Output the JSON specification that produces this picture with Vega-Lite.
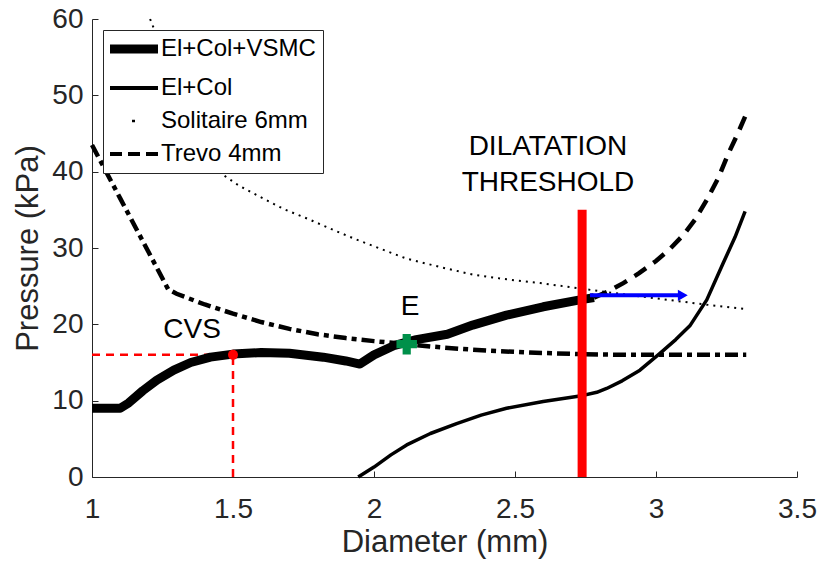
{
  "$schema": "https://vega.github.io/schema/vega-lite/v6.json",
  "autosize": "none",
  "width": 705,
  "height": 458,
  "padding": {"left": 92, "top": 19, "right": 20, "bottom": 87},
  "background": "white",
  "config": {
    "font": "Liberation Sans",
    "view": {"stroke": null},
    "axis": {"grid": false, "domainColor": "#262626", "tickColor": "#262626", "labelColor": "#262626", "titleColor": "#262626", "labelFontSize": 28, "titleFontSize": 31, "titleFontWeight": "normal", "tickSize": -6, "labelFlush": false, "labelOverlap": false}
  },
  "datasets": {
    "curves": [
      {"series": "El+Col+VSMC", "d": 1.0, "p": 9.0},
      {"series": "El+Col+VSMC", "d": 1.1, "p": 9.0},
      {"series": "El+Col+VSMC", "d": 1.13, "p": 9.7},
      {"series": "El+Col+VSMC", "d": 1.18, "p": 11.3},
      {"series": "El+Col+VSMC", "d": 1.23, "p": 12.7},
      {"series": "El+Col+VSMC", "d": 1.29, "p": 14.0},
      {"series": "El+Col+VSMC", "d": 1.35, "p": 15.0},
      {"series": "El+Col+VSMC", "d": 1.42, "p": 15.7},
      {"series": "El+Col+VSMC", "d": 1.5, "p": 16.1},
      {"series": "El+Col+VSMC", "d": 1.6, "p": 16.3},
      {"series": "El+Col+VSMC", "d": 1.7, "p": 16.2},
      {"series": "El+Col+VSMC", "d": 1.82, "p": 15.7},
      {"series": "El+Col+VSMC", "d": 1.9, "p": 15.2},
      {"series": "El+Col+VSMC", "d": 1.95, "p": 14.8},
      {"series": "El+Col+VSMC", "d": 2.0, "p": 16.0},
      {"series": "El+Col+VSMC", "d": 2.07, "p": 17.2},
      {"series": "El+Col+VSMC", "d": 2.15, "p": 18.0},
      {"series": "El+Col+VSMC", "d": 2.26, "p": 18.7},
      {"series": "El+Col+VSMC", "d": 2.35, "p": 19.9},
      {"series": "El+Col+VSMC", "d": 2.47, "p": 21.2},
      {"series": "El+Col+VSMC", "d": 2.6, "p": 22.3},
      {"series": "El+Col+VSMC", "d": 2.73, "p": 23.2},
      {"series": "El+Col+VSMC", "d": 2.78, "p": 23.5},
      {"series": "El+Col", "d": 1.944, "p": 0.0},
      {"series": "El+Col", "d": 2.0, "p": 1.3},
      {"series": "El+Col", "d": 2.06, "p": 2.9},
      {"series": "El+Col", "d": 2.116, "p": 4.2},
      {"series": "El+Col", "d": 2.2, "p": 5.7},
      {"series": "El+Col", "d": 2.293, "p": 7.0},
      {"series": "El+Col", "d": 2.38, "p": 8.1},
      {"series": "El+Col", "d": 2.47, "p": 9.0},
      {"series": "El+Col", "d": 2.6, "p": 9.9},
      {"series": "El+Col", "d": 2.73, "p": 10.6},
      {"series": "El+Col", "d": 2.79, "p": 11.1},
      {"series": "El+Col", "d": 2.825, "p": 11.6},
      {"series": "El+Col", "d": 2.88, "p": 12.6},
      {"series": "El+Col", "d": 2.943, "p": 14.0},
      {"series": "El+Col", "d": 3.014, "p": 16.2},
      {"series": "El+Col", "d": 3.07, "p": 18.0},
      {"series": "El+Col", "d": 3.12, "p": 19.8},
      {"series": "El+Col", "d": 3.18, "p": 23.2},
      {"series": "El+Col", "d": 3.238, "p": 28.0},
      {"series": "El+Col", "d": 3.28, "p": 31.4},
      {"series": "El+Col", "d": 3.316, "p": 34.8},
      {"series": "Solitaire 6mm", "d": 1.206, "p": 60.0},
      {"series": "Solitaire 6mm", "d": 1.26, "p": 55.0},
      {"series": "Solitaire 6mm", "d": 1.32, "p": 49.5},
      {"series": "Solitaire 6mm", "d": 1.38, "p": 44.5},
      {"series": "Solitaire 6mm", "d": 1.448, "p": 40.0},
      {"series": "Solitaire 6mm", "d": 1.52, "p": 38.2},
      {"series": "Solitaire 6mm", "d": 1.596, "p": 36.7},
      {"series": "Solitaire 6mm", "d": 1.68, "p": 35.1},
      {"series": "Solitaire 6mm", "d": 1.773, "p": 33.7},
      {"series": "Solitaire 6mm", "d": 1.86, "p": 32.3},
      {"series": "Solitaire 6mm", "d": 1.938, "p": 31.1},
      {"series": "Solitaire 6mm", "d": 2.03, "p": 29.8},
      {"series": "Solitaire 6mm", "d": 2.116, "p": 28.6},
      {"series": "Solitaire 6mm", "d": 2.235, "p": 27.5},
      {"series": "Solitaire 6mm", "d": 2.352, "p": 26.5},
      {"series": "Solitaire 6mm", "d": 2.47, "p": 25.9},
      {"series": "Solitaire 6mm", "d": 2.589, "p": 25.4},
      {"series": "Solitaire 6mm", "d": 2.73, "p": 24.7},
      {"series": "Solitaire 6mm", "d": 2.85, "p": 24.1},
      {"series": "Solitaire 6mm", "d": 3.0, "p": 23.4},
      {"series": "Solitaire 6mm", "d": 3.15, "p": 22.7},
      {"series": "Solitaire 6mm", "d": 3.316, "p": 22.0},
      {"series": "Trevo 4mm", "d": 1.0, "p": 43.5},
      {"series": "Trevo 4mm", "d": 1.1, "p": 36.5},
      {"series": "Trevo 4mm", "d": 1.2, "p": 29.5},
      {"series": "Trevo 4mm", "d": 1.27, "p": 24.6},
      {"series": "Trevo 4mm", "d": 1.3, "p": 24.0},
      {"series": "Trevo 4mm", "d": 1.4, "p": 22.6},
      {"series": "Trevo 4mm", "d": 1.5, "p": 21.4},
      {"series": "Trevo 4mm", "d": 1.6, "p": 20.3},
      {"series": "Trevo 4mm", "d": 1.7, "p": 19.4},
      {"series": "Trevo 4mm", "d": 1.8, "p": 18.7},
      {"series": "Trevo 4mm", "d": 1.9, "p": 18.2},
      {"series": "Trevo 4mm", "d": 2.0, "p": 17.8},
      {"series": "Trevo 4mm", "d": 2.116, "p": 17.4},
      {"series": "Trevo 4mm", "d": 2.2, "p": 17.1},
      {"series": "Trevo 4mm", "d": 2.3, "p": 16.8},
      {"series": "Trevo 4mm", "d": 2.41, "p": 16.55},
      {"series": "Trevo 4mm", "d": 2.55, "p": 16.3},
      {"series": "Trevo 4mm", "d": 2.73, "p": 16.1},
      {"series": "Trevo 4mm", "d": 2.9, "p": 16.0},
      {"series": "Trevo 4mm", "d": 3.1, "p": 16.0},
      {"series": "Trevo 4mm", "d": 3.32, "p": 16.0}
    ],
    "rising": [
      {"d": 2.78, "p": 23.5},
      {"d": 2.83, "p": 24.3},
      {"d": 2.884, "p": 25.4},
      {"d": 2.94, "p": 26.7},
      {"d": 3.0, "p": 28.3},
      {"d": 3.05, "p": 29.9},
      {"d": 3.097, "p": 31.7},
      {"d": 3.14, "p": 33.8},
      {"d": 3.18, "p": 36.3},
      {"d": 3.22, "p": 39.1},
      {"d": 3.257, "p": 42.4},
      {"d": 3.29, "p": 45.0},
      {"d": 3.316, "p": 47.2}
    ],
    "cvslines": [
      {"seg": "h", "d": 1.0, "p": 16.0},
      {"seg": "h", "d": 1.5, "p": 16.0},
      {"seg": "v", "d": 1.5, "p": 0.0},
      {"seg": "v", "d": 1.5, "p": 16.0}
    ],
    "labels": [
      {"txt": "CVS", "d": 1.355, "p": 19.3},
      {"txt": "E", "d": 2.128, "p": 22.3},
      {"txt": "DILATATION", "d": 2.617, "p": 43.2},
      {"txt": "THRESHOLD", "d": 2.617, "p": 38.5}
    ]
  },
  "encoding": {
    "x": {"type": "quantitative"},
    "y": {"type": "quantitative"}
  },
  "layer": [
    {
      "data": {"name": "cvslines"},
      "mark": {"type": "line", "color": "#ff0000", "strokeWidth": 2.5, "strokeDash": [8, 6]},
      "encoding": {
        "x": {"field": "d", "type": "quantitative", "scale": {"domain": [1, 3.5], "nice": false, "zero": false}, "axis": {"values": [1, 1.5, 2, 2.5, 3, 3.5], "title": "Diameter (mm)", "labelPadding": 24, "titlePadding": 4, "format": "~g"}},
        "y": {"field": "p", "type": "quantitative", "scale": {"domain": [0, 60], "nice": false}, "axis": {"values": [0, 10, 20, 30, 40, 50, 60], "title": "Pressure (kPa)", "labelPadding": 15, "titlePadding": 7}},
        "detail": {"field": "seg", "type": "nominal"}
      }
    },
    {
      "data": {"name": "curves"},
      "transform": [{"filter": "datum.series === 'El+Col+VSMC'"}],
      "mark": {"type": "line", "strokeWidth": 9, "strokeCap": "butt", "strokeJoin": "round"},
      "encoding": {
        "x": {"field": "d", "type": "quantitative"},
        "y": {"field": "p", "type": "quantitative"},
        "color": {
          "field": "series", "type": "nominal",
          "scale": {"domain": ["El+Col+VSMC", "El+Col", "Solitaire 6mm", "Trevo 4mm"], "range": ["#000000", "#000000", "#000000", "#000000"]},
          "legend": {
            "title": null,
            "orient": "top-left",
            "offset": 11,
            "symbolType": "M-2,0H2",
            "symbolSize": 576,
            "symbolOffset": 12,
            "symbolStrokeColor": "#000000",
            "symbolFillColor": "transparent",
            "labelFontSize": 24,
            "labelColor": "#000000",
            "labelOffset": 15,
            "rowPadding": 9,
            "strokeColor": "#262626",
            "fillColor": "white",
            "padding": 7,
            "encode": {
              "symbols": {"update": {
                "strokeWidth": {"signal": "datum.value === 'El+Col+VSMC' ? 9 : datum.value === 'Solitaire 6mm' ? 2.5 : 4"},
                "strokeDash": {"signal": "datum.value === 'Trevo 4mm' ? [12, 6] : datum.value === 'Solitaire 6mm' ? [3, 100] : [1, 0]"},
                "strokeDashOffset": {"signal": "datum.value === 'Solitaire 6mm' ? -22 : 0"}
              }}
            }
          }
        }
      }
    },
    {
      "data": {"name": "curves"},
      "transform": [{"filter": "datum.series === 'El+Col'"}],
      "mark": {"type": "line", "strokeWidth": 3.5, "strokeJoin": "round"},
      "encoding": {
        "x": {"field": "d", "type": "quantitative"},
        "y": {"field": "p", "type": "quantitative"},
        "color": {"field": "series", "type": "nominal"}
      }
    },
    {
      "data": {"name": "curves"},
      "transform": [{"filter": "datum.series === 'Solitaire 6mm'"}],
      "mark": {"type": "line", "strokeWidth": 2, "strokeDash": [2, 5]},
      "encoding": {
        "x": {"field": "d", "type": "quantitative"},
        "y": {"field": "p", "type": "quantitative"},
        "color": {"field": "series", "type": "nominal"}
      }
    },
    {
      "data": {"name": "curves"},
      "transform": [{"filter": "datum.series === 'Trevo 4mm'"}],
      "mark": {"type": "line", "strokeWidth": 4.5, "strokeDash": [13, 5, 5, 5]},
      "encoding": {
        "x": {"field": "d", "type": "quantitative"},
        "y": {"field": "p", "type": "quantitative"},
        "color": {"field": "series", "type": "nominal"}
      }
    },
    {
      "data": {"name": "rising"},
      "mark": {"type": "line", "color": "#000000", "strokeWidth": 4.5, "strokeDash": [14, 9]},
      "encoding": {
        "x": {"field": "d", "type": "quantitative"},
        "y": {"field": "p", "type": "quantitative"}
      }
    },
    {
      "data": {"values": [{"d": 2.738, "p0": 0, "p1": 35}]},
      "mark": {"type": "rule", "color": "#ff0000", "strokeWidth": 9},
      "encoding": {
        "x": {"field": "d", "type": "quantitative"},
        "y": {"field": "p0", "type": "quantitative"},
        "y2": {"field": "p1"}
      }
    },
    {
      "data": {"values": [{"d": 2.766, "d2": 3.09, "p": 23.8}]},
      "mark": {"type": "rule", "color": "#0000ff", "strokeWidth": 4},
      "encoding": {
        "x": {"field": "d", "type": "quantitative"},
        "x2": {"field": "d2"},
        "y": {"field": "p", "type": "quantitative"}
      }
    },
    {
      "data": {"values": [{"d": 3.095, "p": 23.8}]},
      "mark": {"type": "point", "shape": "triangle-right", "filled": true, "color": "#0000ff", "size": 130, "opacity": 1},
      "encoding": {
        "x": {"field": "d", "type": "quantitative"},
        "y": {"field": "p", "type": "quantitative"}
      }
    },
    {
      "data": {"values": [{"d": 1.5, "p": 16.0}]},
      "mark": {"type": "point", "shape": "circle", "filled": true, "color": "#ff0000", "size": 100, "opacity": 1},
      "encoding": {
        "x": {"field": "d", "type": "quantitative"},
        "y": {"field": "p", "type": "quantitative"}
      }
    },
    {
      "data": {"values": [{"d": 2.116, "p": 17.4}]},
      "mark": {"type": "point", "shape": "cross", "filled": true, "color": "#00904a", "size": 420, "opacity": 1},
      "encoding": {
        "x": {"field": "d", "type": "quantitative"},
        "y": {"field": "p", "type": "quantitative"}
      }
    },
    {
      "data": {"name": "labels"},
      "mark": {"type": "text", "fontSize": 28, "color": "#000000", "align": "center", "baseline": "middle"},
      "encoding": {
        "x": {"field": "d", "type": "quantitative"},
        "y": {"field": "p", "type": "quantitative"},
        "text": {"field": "txt"}
      }
    }
  ]
}
